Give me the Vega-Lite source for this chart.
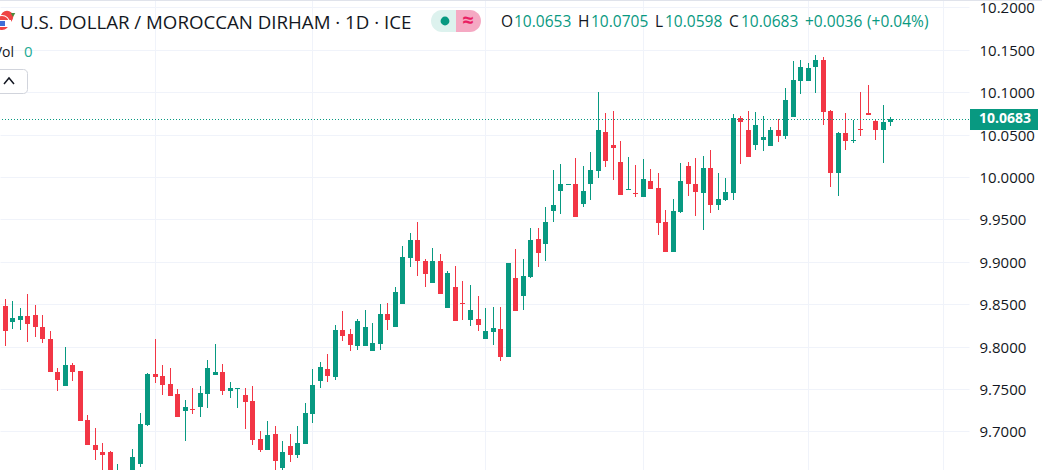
{
  "$schema": "https://vega.github.io/schema/vega-lite/v6.json",
  "description": "USD/MAD daily candlesticks",
  "width": 969,
  "height": 470,
  "autosize": {"type": "none"},
  "padding": {"left": 0, "top": 0, "right": 73, "bottom": 0},
  "background": "#ffffff",
  "view": {"stroke": null},
  "config": {"text": {"font": "Open Sans"}, "axis": {"labelFont": "Open Sans"}},
  "datasets": {
    "candles": [
      {"i":0,"open":9.8477,"high":9.8560,"low":9.8006,"close":9.8182},
      {"i":1,"open":9.8289,"high":9.8537,"low":9.8206,"close":9.8336},
      {"i":2,"open":9.8312,"high":9.8454,"low":9.8194,"close":9.8360},
      {"i":3,"open":9.8360,"high":9.8619,"low":9.8053,"close":9.8265},
      {"i":4,"open":9.8371,"high":9.8489,"low":9.8112,"close":9.8230},
      {"i":5,"open":9.8230,"high":9.8371,"low":9.8041,"close":9.8088},
      {"i":6,"open":9.8088,"high":9.8182,"low":9.7699,"close":9.7699},
      {"i":7,"open":9.7699,"high":9.7746,"low":9.7475,"close":9.7605},
      {"i":8,"open":9.7534,"high":9.7994,"low":9.7534,"close":9.7782},
      {"i":9,"open":9.7782,"high":9.7805,"low":9.7593,"close":9.7699},
      {"i":10,"open":9.7711,"high":9.7711,"low":9.7121,"close":9.7121},
      {"i":11,"open":9.7133,"high":9.7192,"low":9.6838,"close":9.6838},
      {"i":12,"open":9.6838,"high":9.7039,"low":9.6662,"close":9.6780},
      {"i":13,"open":9.6756,"high":9.6862,"low":9.6400,"close":9.6721},
      {"i":14,"open":9.6756,"high":9.6768,"low":9.6450,"close":9.6500},
      {"i":15,"open":9.6430,"high":9.6615,"low":9.6400,"close":9.6480},
      {"i":16,"open":9.6450,"high":9.6500,"low":9.6380,"close":9.6420},
      {"i":17,"open":9.6500,"high":9.6791,"low":9.6480,"close":9.6697},
      {"i":18,"open":9.6615,"high":9.7216,"low":9.6579,"close":9.7086},
      {"i":19,"open":9.7074,"high":9.7687,"low":9.7063,"close":9.7676},
      {"i":20,"open":9.7676,"high":9.8088,"low":9.7569,"close":9.7640},
      {"i":21,"open":9.7652,"high":9.7782,"low":9.7428,"close":9.7546},
      {"i":22,"open":9.7558,"high":9.7746,"low":9.7416,"close":9.7416},
      {"i":23,"open":9.7440,"high":9.7499,"low":9.7169,"close":9.7169},
      {"i":24,"open":9.7239,"high":9.7369,"low":9.6886,"close":9.7286},
      {"i":25,"open":9.7263,"high":9.7510,"low":9.7204,"close":9.7251},
      {"i":26,"open":9.7286,"high":9.7534,"low":9.7169,"close":9.7451},
      {"i":27,"open":9.7440,"high":9.7841,"low":9.7275,"close":9.7746},
      {"i":28,"open":9.7664,"high":9.8029,"low":9.7664,"close":9.7699},
      {"i":29,"open":9.7699,"high":9.7793,"low":9.7428,"close":9.7475},
      {"i":30,"open":9.7475,"high":9.7581,"low":9.7393,"close":9.7510},
      {"i":31,"open":9.7499,"high":9.7510,"low":9.7275,"close":9.7510},
      {"i":32,"open":9.7428,"high":9.7510,"low":9.7027,"close":9.7345},
      {"i":33,"open":9.7357,"high":9.7534,"low":9.6838,"close":9.6897},
      {"i":34,"open":9.6909,"high":9.7003,"low":9.6756,"close":9.6780},
      {"i":35,"open":9.6780,"high":9.7121,"low":9.6780,"close":9.6956},
      {"i":36,"open":9.6968,"high":9.7062,"low":9.6544,"close":9.6650},
      {"i":37,"open":9.6567,"high":9.6886,"low":9.6544,"close":9.6756},
      {"i":38,"open":9.6827,"high":9.6968,"low":9.6638,"close":9.6721},
      {"i":39,"open":9.6721,"high":9.7062,"low":9.6685,"close":9.6862},
      {"i":40,"open":9.6850,"high":9.7334,"low":9.6850,"close":9.7216},
      {"i":41,"open":9.7204,"high":9.7734,"low":9.7098,"close":9.7546},
      {"i":42,"open":9.7593,"high":9.7817,"low":9.7510,"close":9.7758},
      {"i":43,"open":9.7734,"high":9.7911,"low":9.7581,"close":9.7652},
      {"i":44,"open":9.7641,"high":9.8254,"low":9.7606,"close":9.8195},
      {"i":45,"open":9.8195,"high":9.8419,"low":9.8066,"close":9.8124},
      {"i":46,"open":9.8148,"high":9.8207,"low":9.7948,"close":9.8018},
      {"i":47,"open":9.8007,"high":9.8325,"low":9.7959,"close":9.8301},
      {"i":48,"open":9.8007,"high":9.8431,"low":9.8007,"close":9.8231},
      {"i":49,"open":9.7948,"high":9.8278,"low":9.7948,"close":9.8042},
      {"i":50,"open":9.8030,"high":9.8502,"low":9.7959,"close":9.8384},
      {"i":51,"open":9.8384,"high":9.8514,"low":9.8195,"close":9.8313},
      {"i":52,"open":9.8231,"high":9.8702,"low":9.8231,"close":9.8643},
      {"i":53,"open":9.8502,"high":9.9186,"low":9.8502,"close":9.9056},
      {"i":54,"open":9.9044,"high":9.9339,"low":9.8938,"close":9.9256},
      {"i":55,"open":9.9256,"high":9.9469,"low":9.8832,"close":9.9009},
      {"i":56,"open":9.9009,"high":9.9032,"low":9.8702,"close":9.8855},
      {"i":57,"open":9.8749,"high":9.9162,"low":9.8749,"close":9.9009},
      {"i":58,"open":9.9009,"high":9.9091,"low":9.8620,"close":9.8620},
      {"i":59,"open":9.8455,"high":9.8891,"low":9.8455,"close":9.8867},
      {"i":60,"open":9.8702,"high":9.8950,"low":9.8301,"close":9.8301},
      {"i":61,"open":9.8514,"high":9.8773,"low":9.8313,"close":9.8502},
      {"i":62,"open":9.8313,"high":9.8726,"low":9.8242,"close":9.8431},
      {"i":63,"open":9.8325,"high":9.8596,"low":9.8183,"close":9.8254},
      {"i":64,"open":9.8089,"high":9.8455,"low":9.8089,"close":9.8183},
      {"i":65,"open":9.8172,"high":9.8466,"low":9.8018,"close":9.8219},
      {"i":66,"open":9.8207,"high":9.8466,"low":9.7830,"close":9.7877},
      {"i":67,"open":9.7877,"high":9.8985,"low":9.7877,"close":9.8985},
      {"i":68,"open":9.8808,"high":9.9150,"low":9.8419,"close":9.8419},
      {"i":69,"open":9.8596,"high":9.9032,"low":9.8431,"close":9.8832},
      {"i":70,"open":9.8820,"high":9.9398,"low":9.8808,"close":9.9256},
      {"i":71,"open":9.9268,"high":9.9398,"low":9.8938,"close":9.9103},
      {"i":72,"open":9.9209,"high":9.9646,"low":9.9009,"close":9.9469},
      {"i":73,"open":9.9599,"high":10.0082,"low":9.9469,"close":9.9669},
      {"i":74,"open":9.9834,"high":10.0153,"low":9.9563,"close":9.9917},
      {"i":75,"open":9.9905,"high":9.9917,"low":9.9905,"close":9.9917},
      {"i":76,"open":9.9917,"high":10.0223,"low":9.9528,"close":9.9528},
      {"i":77,"open":9.9681,"high":10.0129,"low":9.9646,"close":9.9834},
      {"i":78,"open":9.9917,"high":10.0294,"low":9.9728,"close":10.0082},
      {"i":79,"open":10.0070,"high":10.1002,"low":9.9987,"close":10.0553},
      {"i":80,"open":10.0530,"high":10.0754,"low":10.0117,"close":10.0188},
      {"i":81,"open":10.0377,"high":10.0778,"low":9.9964,"close":10.0341},
      {"i":82,"open":10.0176,"high":10.0424,"low":9.9787,"close":9.9787},
      {"i":83,"open":9.9846,"high":10.0235,"low":9.9846,"close":9.9858},
      {"i":84,"open":9.9811,"high":10.0141,"low":9.9764,"close":9.9799},
      {"i":85,"open":9.9764,"high":10.0212,"low":9.9764,"close":9.9976},
      {"i":86,"open":9.9952,"high":10.0094,"low":9.9858,"close":9.9858},
      {"i":87,"open":9.9870,"high":10.0046,"low":9.9316,"close":9.9457},
      {"i":88,"open":9.9469,"high":9.9610,"low":9.9115,"close":9.9115},
      {"i":89,"open":9.9115,"high":9.9740,"low":9.9115,"close":9.9599},
      {"i":90,"open":9.9587,"high":10.0164,"low":9.9575,"close":9.9952},
      {"i":91,"open":10.0129,"high":10.0176,"low":9.9775,"close":9.9917},
      {"i":92,"open":9.9917,"high":10.0223,"low":9.9540,"close":9.9822},
      {"i":93,"open":9.9810,"high":10.0246,"low":9.9374,"close":10.0105},
      {"i":94,"open":10.0105,"high":10.0317,"low":9.9574,"close":9.9669},
      {"i":95,"open":9.9669,"high":10.0046,"low":9.9610,"close":9.9739},
      {"i":96,"open":9.9727,"high":9.9987,"low":9.9716,"close":9.9822},
      {"i":97,"open":9.9810,"high":10.0741,"low":9.9727,"close":10.0694},
      {"i":98,"open":10.0694,"high":10.0718,"low":10.0152,"close":10.0647},
      {"i":99,"open":10.0553,"high":10.0777,"low":10.0234,"close":10.0234},
      {"i":100,"open":10.0376,"high":10.0765,"low":10.0317,"close":10.0612},
      {"i":101,"open":10.0435,"high":10.0718,"low":10.0305,"close":10.0470},
      {"i":102,"open":10.0364,"high":10.0588,"low":10.0364,"close":10.0553},
      {"i":103,"open":10.0553,"high":10.0682,"low":10.0411,"close":10.0482},
      {"i":104,"open":10.0482,"high":10.1048,"low":10.0447,"close":10.0906},
      {"i":105,"open":10.0706,"high":10.1366,"low":10.0706,"close":10.1142},
      {"i":106,"open":10.1131,"high":10.1378,"low":10.0977,"close":10.1296},
      {"i":107,"open":10.1131,"high":10.1343,"low":10.1131,"close":10.1284},
      {"i":108,"open":10.1296,"high":10.1437,"low":10.0989,"close":10.1378},
      {"i":109,"open":10.1378,"high":10.1413,"low":10.0612,"close":10.0765},
      {"i":110,"open":10.0777,"high":10.0789,"low":9.9881,"close":10.0046},
      {"i":111,"open":10.0046,"high":10.0529,"low":9.9775,"close":10.0517},
      {"i":112,"open":10.0517,"high":10.0753,"low":10.0317,"close":10.0423},
      {"i":113,"open":10.0423,"high":10.0671,"low":10.0400,"close":10.0435},
      {"i":114,"open":10.0565,"high":10.1001,"low":10.0482,"close":10.0553},
      {"i":115,"open":10.0753,"high":10.1083,"low":10.0730,"close":10.0730},
      {"i":116,"open":10.0659,"high":10.0671,"low":10.0435,"close":10.0553},
      {"i":117,"open":10.0553,"high":10.0848,"low":10.0164,"close":10.0647},
      {"i":118,"open":10.0653,"high":10.0705,"low":10.0598,"close":10.0683}
    ]
  },
  "layer": [
    {
      "data": {"name": "candles"},
      "mark": {"type": "rule", "strokeWidth": 1, "xOffset": 0.5},
      "encoding": {
        "x": {
          "field": "i",
          "type": "quantitative",
          "scale": {"domain": [-0.6262, 128.49], "nice": false, "zero": false, "round": true, "padding": 0},
          "axis": {"values": [20, 41, 64, 85, 107, 125], "labels": false, "ticks": false, "domain": false, "title": null, "grid": true, "gridColor": "#f0f3fa"}
        },
        "y": {
          "field": "low",
          "type": "quantitative",
          "scale": {"domain": [9.6544, 10.2086], "nice": false, "zero": false, "round": true},
          "axis": {
            "orient": "right",
            "values": [9.65, 9.7, 9.75, 9.8, 9.85, 9.9, 9.95, 10, 10.05, 10.1, 10.15, 10.2],
            "format": ".4f",
            "title": null,
            "ticks": false,
            "domain": false,
            "labelPadding": 10,
            "labelFontSize": 15,
            "labelColor": "#131722",
            "labelOverlap": false,
            "labelBound": false,
            "labelFlush": false,
            "grid": true,
            "gridColor": "#f0f3fa"
          }
        },
        "y2": {"field": "high"},
        "color": {"condition": {"test": "datum.close >= datum.open", "value": "#089981"}, "value": "#f23645"}
      }
    },
    {
      "data": {"name": "candles"},
      "mark": {"type": "bar", "width": 5, "xOffset": 0.5},
      "encoding": {
        "x": {"field": "i", "type": "quantitative", "scale": {"padding": 0}},
        "y": {"field": "open", "type": "quantitative"},
        "y2": {"field": "close"},
        "color": {"condition": {"test": "datum.close >= datum.open", "value": "#089981"}, "value": "#f23645"}
      }
    },
    {
      "data": {"values": [{"last": 10.0683}]},
      "mark": {"type": "rule", "color": "#089981", "strokeWidth": 1, "strokeDash": [1, 2], "yOffset": 0.5},
      "encoding": {"y": {"field": "last", "type": "quantitative"}}
    },
    {
      "data": {"values": [{"name": "top border"}]},
      "mark": {"type": "rect", "color": "#e0e3eb"},
      "encoding": {
        "x": {"datum": -1, "type": "quantitative"}, "x2": {"datum": 139},
        "y": {"datum": 10.2086, "type": "quantitative"}, "y2": {"datum": 10.2074}
      }
    },
    {
      "data": {"values": [{"label": "U.S. DOLLAR / MOROCCAN DIRHAM · 1D · ICE"}]},
      "mark": {"type": "text", "align": "left", "baseline": "alphabetic", "fontSize": 18.7, "color": "#131722"},
      "encoding": {
        "text": {"field": "label"},
        "x": {"datum": 2.04, "type": "quantitative"},
        "y": {"datum": 10.1744, "type": "quantitative"}
      }
    },
    {
      "data": {"values": [{"name": "morocco"}]},
      "mark": {"type": "point", "filled": true, "shape": "circle", "size": 154, "color": "#ef4444", "opacity": 1},
      "encoding": {"x": {"datum": 0.37, "type": "quantitative"}, "y": {"datum": 10.1886, "type": "quantitative"}}
    },
    {
      "data": {"values": [{"name": "morocco star"}]},
      "mark": {"type": "point", "filled": true, "shape": "triangle-down", "size": 20, "color": "#4d8a3a", "opacity": 1},
      "encoding": {"x": {"datum": 1.1, "type": "quantitative"}, "y": {"datum": 10.1909, "type": "quantitative"}}
    },
    {
      "data": {"values": [{"name": "us ring"}]},
      "mark": {"type": "point", "filled": true, "shape": "circle", "size": 254, "color": "#ffffff", "opacity": 1},
      "encoding": {"x": {"datum": -0.36, "type": "quantitative"}, "y": {"datum": 10.1815, "type": "quantitative"}}
    },
    {
      "data": {"values": [{"name": "us"}]},
      "mark": {"type": "point", "filled": true, "shape": "circle", "size": 201, "color": "#ef4444", "opacity": 1},
      "encoding": {"x": {"datum": -0.36, "type": "quantitative"}, "y": {"datum": 10.1815, "type": "quantitative"}}
    },
    {
      "data": {"values": [{"name": "us stripe"}]},
      "mark": {"type": "rect", "color": "#ffffff"},
      "encoding": {
        "x": {"datum": -0.76, "type": "quantitative"}, "x2": {"datum": 0.9},
        "y": {"datum": 10.1856, "type": "quantitative"}, "y2": {"datum": 10.1773}
      }
    },
    {
      "data": {"values": [{"name": "us canton"}]},
      "mark": {"type": "rect", "color": "#3f6fd8"},
      "encoding": {
        "x": {"datum": -0.76, "type": "quantitative"}, "x2": {"datum": 0.1},
        "y": {"datum": 10.1838, "type": "quantitative"}, "y2": {"datum": 10.1779}
      }
    },
    {
      "data": {"values": [{"label": "Vol"}]},
      "mark": {"type": "text", "align": "right", "baseline": "alphabetic", "fontSize": 14, "color": "#131722"},
      "encoding": {"text": {"field": "label"}, "x": {"datum": 1.24, "type": "quantitative"}, "y": {"datum": 10.1414, "type": "quantitative"}}
    },
    {
      "data": {"values": [{"label": "0"}]},
      "mark": {"type": "text", "align": "left", "baseline": "alphabetic", "fontSize": 15, "color": "#22ab94"},
      "encoding": {"text": {"field": "label"}, "x": {"datum": 2.57, "type": "quantitative"}, "y": {"datum": 10.1414, "type": "quantitative"}}
    },
    {
      "data": {"values": [{"name": "collapse button"}]},
      "mark": {"type": "rect", "fill": "#ffffff", "stroke": "#d1d4dc", "strokeWidth": 1, "cornerRadius": 4, "xOffset": 0.5, "x2Offset": 0.5, "yOffset": 0.5, "y2Offset": 0.5},
      "encoding": {
        "x": {"datum": -1.29, "type": "quantitative"}, "x2": {"datum": 2.97},
        "y": {"datum": 10.1272, "type": "quantitative"}, "y2": {"datum": 10.0989}
      }
    },
    {
      "data": {"values": [{"name": "chevron"}]},
      "mark": {"type": "point", "shape": "M-1,0.6L0,-0.6L1,0.6", "filled": false, "size": 100, "stroke": "#131722", "strokeWidth": 1.5, "opacity": 1},
      "encoding": {"x": {"datum": 0.57, "type": "quantitative"}, "y": {"datum": 10.1131, "type": "quantitative"}}
    },
    {
      "data": {"values": [{"name": "market open"}]},
      "mark": {"type": "rect", "color": "#ddf2ee", "cornerRadiusTopLeft": 11, "cornerRadiusBottomLeft": 11},
      "encoding": {
        "x": {"datum": 56.8, "type": "quantitative"}, "x2": {"datum": 60.13},
        "y": {"datum": 10.1968, "type": "quantitative"}, "y2": {"datum": 10.1709}
      }
    },
    {
      "data": {"values": [{"name": "delayed"}]},
      "mark": {"type": "rect", "color": "#f5a9c3", "cornerRadiusTopRight": 11, "cornerRadiusBottomRight": 11},
      "encoding": {
        "x": {"datum": 60.13, "type": "quantitative"}, "x2": {"datum": 63.46},
        "y": {"datum": 10.1968, "type": "quantitative"}, "y2": {"datum": 10.1709}
      }
    },
    {
      "data": {"values": [{"name": "open dot"}]},
      "mark": {"type": "point", "filled": true, "shape": "circle", "size": 78, "color": "#089981", "opacity": 1},
      "encoding": {"x": {"datum": 58.67, "type": "quantitative"}, "y": {"datum": 10.1838, "type": "quantitative"}}
    },
    {
      "data": {"values": [{"label": "≈"}]},
      "mark": {"type": "text", "align": "center", "baseline": "middle", "fontSize": 20, "fontWeight": "bold", "color": "#e91e63"},
      "encoding": {"text": {"field": "label"}, "x": {"datum": 61.73, "type": "quantitative"}, "y": {"datum": 10.1838, "type": "quantitative"}}
    },
    {
      "data": {"values": [{"label": "O"}]},
      "mark": {"type": "text", "align": "left", "baseline": "alphabetic", "fontSize": 15.5, "color": "#131722"},
      "encoding": {"text": {"field": "label"}, "x": {"datum": 66.13, "type": "quantitative"}, "y": {"datum": 10.1764, "type": "quantitative"}}
    },
    {
      "data": {"values": [{"label": "10.0653"}]},
      "mark": {"type": "text", "align": "left", "baseline": "alphabetic", "fontSize": 15.5, "color": "#089981"},
      "encoding": {"text": {"field": "label"}, "x": {"datum": 67.86, "type": "quantitative"}, "y": {"datum": 10.1764, "type": "quantitative"}}
    },
    {
      "data": {"values": [{"label": "H"}]},
      "mark": {"type": "text", "align": "left", "baseline": "alphabetic", "fontSize": 15.5, "color": "#131722"},
      "encoding": {"text": {"field": "label"}, "x": {"datum": 76.39, "type": "quantitative"}, "y": {"datum": 10.1764, "type": "quantitative"}}
    },
    {
      "data": {"values": [{"label": "10.0705"}]},
      "mark": {"type": "text", "align": "left", "baseline": "alphabetic", "fontSize": 15.5, "color": "#089981"},
      "encoding": {"text": {"field": "label"}, "x": {"datum": 78.12, "type": "quantitative"}, "y": {"datum": 10.1764, "type": "quantitative"}}
    },
    {
      "data": {"values": [{"label": "L"}]},
      "mark": {"type": "text", "align": "left", "baseline": "alphabetic", "fontSize": 15.5, "color": "#131722"},
      "encoding": {"text": {"field": "label"}, "x": {"datum": 86.65, "type": "quantitative"}, "y": {"datum": 10.1764, "type": "quantitative"}}
    },
    {
      "data": {"values": [{"label": "10.0598"}]},
      "mark": {"type": "text", "align": "left", "baseline": "alphabetic", "fontSize": 15.5, "color": "#089981"},
      "encoding": {"text": {"field": "label"}, "x": {"datum": 87.98, "type": "quantitative"}, "y": {"datum": 10.1764, "type": "quantitative"}}
    },
    {
      "data": {"values": [{"label": "C"}]},
      "mark": {"type": "text", "align": "left", "baseline": "alphabetic", "fontSize": 15.5, "color": "#131722"},
      "encoding": {"text": {"field": "label"}, "x": {"datum": 96.51, "type": "quantitative"}, "y": {"datum": 10.1764, "type": "quantitative"}}
    },
    {
      "data": {"values": [{"label": "10.0683"}]},
      "mark": {"type": "text", "align": "left", "baseline": "alphabetic", "fontSize": 15.5, "color": "#089981"},
      "encoding": {"text": {"field": "label"}, "x": {"datum": 98.11, "type": "quantitative"}, "y": {"datum": 10.1764, "type": "quantitative"}}
    },
    {
      "data": {"values": [{"label": "+0.0036"}]},
      "mark": {"type": "text", "align": "left", "baseline": "alphabetic", "fontSize": 15.5, "color": "#089981"},
      "encoding": {"text": {"field": "label"}, "x": {"datum": 106.63, "type": "quantitative"}, "y": {"datum": 10.1764, "type": "quantitative"}}
    },
    {
      "data": {"values": [{"label": "(+0.04%)"}]},
      "mark": {"type": "text", "align": "left", "baseline": "alphabetic", "fontSize": 15.5, "color": "#089981"},
      "encoding": {"text": {"field": "label"}, "x": {"datum": 114.9, "type": "quantitative"}, "y": {"datum": 10.1764, "type": "quantitative"}}
    },
    {
      "data": {"values": [{"name": "price box"}]},
      "mark": {"type": "rect", "color": "#089981"},
      "encoding": {
        "x": {"datum": 128.62, "type": "quantitative"}, "x2": {"datum": 137.68},
        "y": {"datum": 10.0801, "type": "quantitative"}, "y2": {"datum": 10.0553}
      }
    },
    {
      "data": {"values": [{"label": "10.0683"}]},
      "mark": {"type": "text", "align": "center", "baseline": "middle", "fontSize": 14, "fontWeight": "bold", "color": "#ffffff"},
      "encoding": {"text": {"field": "label"}, "x": {"datum": 133.35, "type": "quantitative"}, "y": {"datum": 10.0677, "type": "quantitative"}}
    }
  ]
}
